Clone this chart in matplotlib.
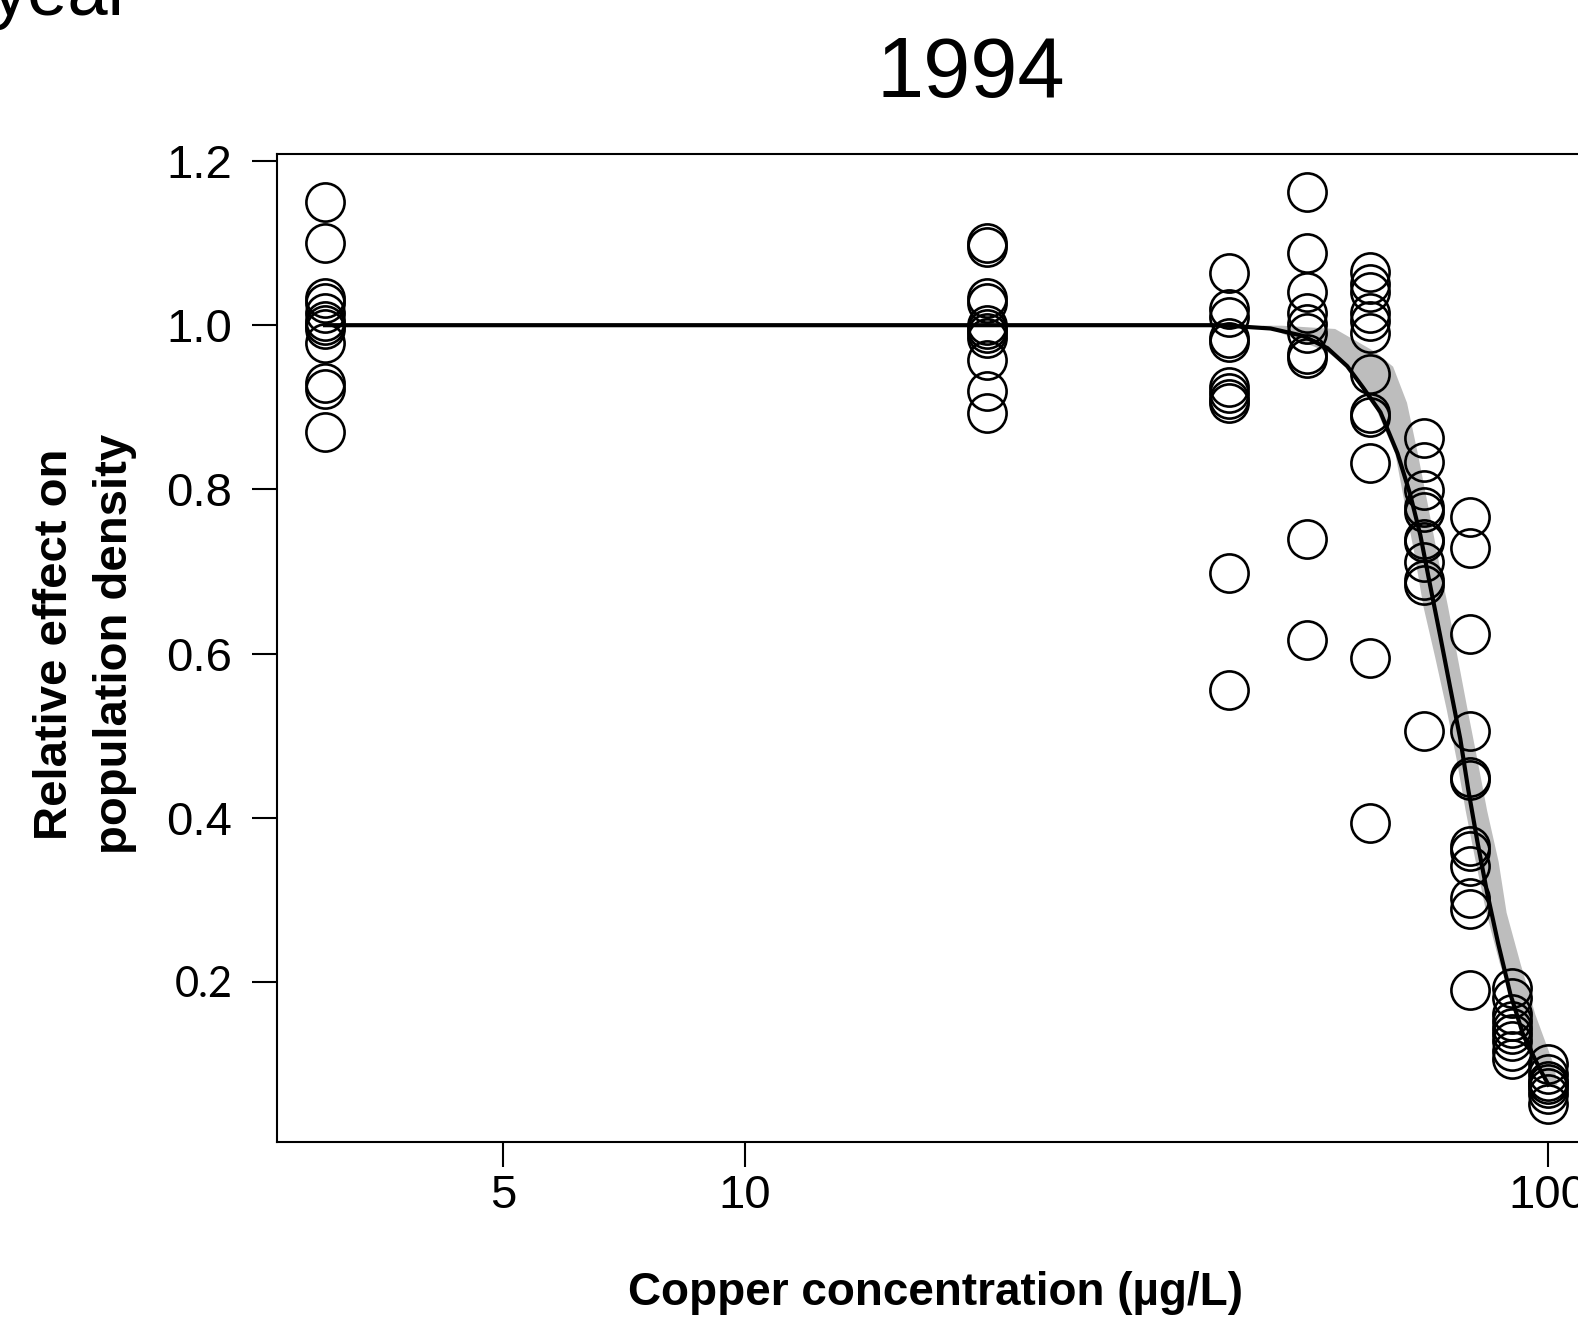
import matplotlib.pyplot as plt
import numpy as np

# observed responses per copper concentration (ug/L)
conc = [3, 20, 40, 50, 60, 70, 80, 90, 100]
resp_3 = [1.15, 1.10, 1.033, 1.027, 1.015, 1.005, 1.0, 0.995, 0.978, 0.93, 0.922, 0.87]
resp_20 = [1.10, 1.095, 1.033, 1.027, 1.0, 0.995, 0.99, 0.985, 0.957, 0.92, 0.893]
resp_40 = [1.063, 1.02, 1.01, 0.985, 0.98, 0.925, 0.917, 0.91, 0.905, 0.698, 0.555]
resp_50 = [1.162, 1.088, 1.04, 1.015, 1.002, 0.99, 0.965, 0.96, 0.74, 0.616]
resp_60 = [1.065, 1.05, 1.04, 1.015, 1.005, 0.99, 0.94, 0.893, 0.888, 0.832, 0.594, 0.394]
resp_70 = [0.862, 0.833, 0.799, 0.778, 0.772, 0.74, 0.736, 0.711, 0.689, 0.683, 0.506]
resp_80 = [0.766, 0.729, 0.624, 0.506, 0.45, 0.446, 0.366, 0.36, 0.341, 0.302, 0.289, 0.19]
resp_90 = [0.193, 0.18, 0.161, 0.152, 0.144, 0.137, 0.128, 0.116, 0.106]
resp_100 = [0.1, 0.088, 0.079, 0.076, 0.071, 0.063, 0.051]
responses = [resp_3, resp_20, resp_40, resp_50, resp_60, resp_70, resp_80, resp_90, resp_100]

# fitted curve
fit_x = [3, 20, 39.0, 45.1, 49.5, 53.1, 56.2, 58.8, 61.8, 64.9, 67.3, 69.3, 71.3,
         73.4, 75.5, 77.7, 79.5, 81.6, 83.9, 86.6, 89.7, 93.1, 97.7, 100]
fit_y = [1.0, 1.0, 1.0, 0.996, 0.987, 0.972, 0.950, 0.924, 0.894, 0.844, 0.794, 0.744, 0.682,
         0.620, 0.558, 0.496, 0.434, 0.371, 0.309, 0.247, 0.185, 0.135, 0.093, 0.075]

# confidence band (x range at given response levels)
band_y = [1.0, 0.996, 0.968, 0.950, 0.906, 0.844, 0.782, 0.720, 0.658, 0.596, 0.533,
          0.471, 0.409, 0.347, 0.285, 0.223, 0.161, 0.099, 0.075]
band_lo = [44, 45.1, 53.0, 56.0, 60.5, 64.4, 66.2, 68.1, 69.8, 72.2, 74.6,
           76.8, 78.8, 81.1, 83.6, 86.9, 91.3, 97.5, 100]
band_hi = [46.5, 54.2, 60.8, 64.0, 66.6, 68.7, 70.7, 72.7, 74.9, 77.0, 79.2,
           81.5, 83.8, 86.6, 88.6, 92.2, 96.2, 101.5, 102.5]

fig = plt.figure(figsize=(15.78, 13.21), dpi=100)
ax = fig.add_axes([0.1755, 0.1355, 0.846, 0.7479])

ax.fill_betweenx(band_y, band_lo, band_hi, color='#bdbdbd', lw=0, zorder=1)
ax.plot(fit_x, fit_y, color='black', lw=3, zorder=2, solid_joinstyle='round')

for c, r in zip(conc, responses):
    ax.plot([c] * len(r), r, 'o', ms=27.5, mfc='none', mec='black', mew=1.9, zorder=3)

ax.set_xscale('log')
ax.set_xlim(2.614, 120)
ax.set_ylim(0.005, 1.2085)

ax.set_xticks([5, 10, 100])
ax.set_xticklabels(['5', '10', '100'])
ax.xaxis.set_minor_locator(plt.NullLocator())
ax.set_yticks([0.2, 0.4, 0.6, 0.8, 1.0, 1.2])
ax.set_yticklabels(['0.2', '0.4', '0.6', '0.8', '1.0', '1.2'])

ax.tick_params(axis='both', direction='out', length=18, width=1.5,
               labelsize=34, labelfontfamily='Liberation Sans')
ax.tick_params(axis='y', pad=14)
ax.tick_params(axis='x', pad=5)
lab = ax.get_yticklabels()[0]
lab.set_fontfamily('Lato')
lab.set_fontsize(30)

for s in ax.spines.values():
    s.set_linewidth(1.5)

fig.text(936 / 1578, 1 - 1293 / 1321, 'Copper concentration (\u00b5g/L)', ha='center', va='center',
         fontsize=33, fontweight='bold', family='Liberation Sans')
fig.text(55 / 1578, 1 - 644 / 1321, 'Relative effect on', rotation=90, ha='center', va='center',
         fontsize=34, fontweight='bold', family='Liberation Sans')
fig.text(115 / 1578, 1 - 644 / 1321, 'population density', rotation=90, ha='center', va='center',
         fontsize=34, fontweight='bold', family='Liberation Sans')
fig.text(971 / 1578, 1 - 75 / 1321, '1994', ha='center', va='center',
         fontsize=61, family='Liberation Sans')
fig.text(132 / 1578, 1 - 15 / 1321, 'year', ha='right', va='baseline',
         fontsize=52, family='Liberation Sans')

fig.savefig('out.png', dpi=100)
plt.close()
